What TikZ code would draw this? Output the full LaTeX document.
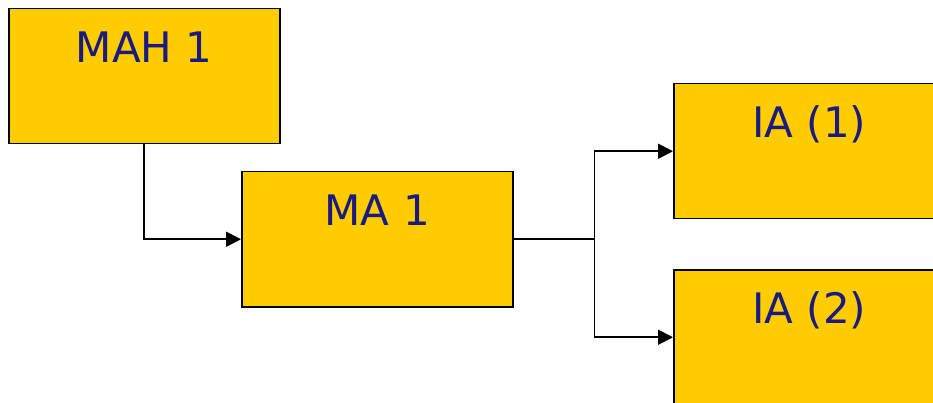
\documentclass[tikz,border=0pt]{standalone}
\usepackage{fontspec}
\setmainfont{DejaVu Sans}
\usetikzlibrary{arrows.meta}
\definecolor{boxyellow}{HTML}{FFCC00}
\definecolor{boxtext}{HTML}{1A1A80}
\tikzset{
  bloc/.style={draw=black, line width=1.5pt, fill=boxyellow, text=boxtext,
    font=\fontsize{42}{50}\selectfont, inner sep=0pt,
    minimum width=271pt, text height=54pt, text depth=81pt, anchor=north west},
  lien/.style={line width=1.8pt, -{Triangle[length=15pt,width=15pt]}}
}
\begin{document}
\begin{tikzpicture}[x=1pt,y=-1pt]
    % Cadre de l'image
    \path[use as bounding box, clip] (0,0) rectangle (933,403);
    \fill[white] (0,0) rectangle (933,403);

    % Blocs
    \node[bloc] (mah) at (8,8) {MAH 1};
    \node[bloc] (ma) at (241,171) {MA 1};
    \node[bloc] (iaA) at (673,83) {IA (1)};
    \node[bloc] (iaB) at (673,269) {IA (2)};

    % Point de branchement
    \path (ma.east) ++(81,0) coordinate (fourche);

    % Liaisons
    \draw[lien] (mah.south) |- (ma.west);
    \draw[line width=1.8pt] (ma.east) -- (fourche);
    \draw[lien] (fourche) |- (iaA.west);
    \draw[lien] (fourche) |- (iaB.west);
\end{tikzpicture}
\end{document}
